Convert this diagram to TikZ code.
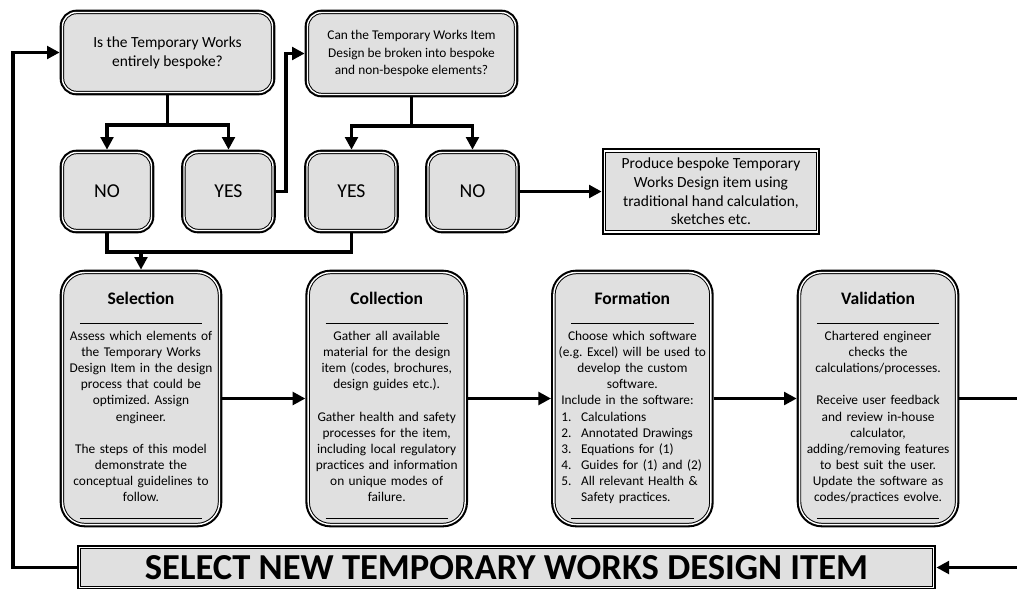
\documentclass[tikz,border=0pt]{standalone}
\usepackage{fontspec}
\setmainfont{Carlito}
\usetikzlibrary{calc,positioning,arrows.meta}
\setlength{\parindent}{0pt}
\frenchspacing
\definecolor{boxgray}{RGB}{224,224,224}
\tikzset{
    >={Triangle[length=9pt,width=9pt]},
    twbox/.style={
        rectangle,
        draw=black, line width=0.7pt,
        double=white, double distance=1pt,
        preaction={draw=black, line width=4pt},
        fill=boxgray,
        outer sep=2pt,
        align=center
    },
    question/.style={
        twbox,
        rounded corners=10pt,
        minimum height=2cm
    },
    answer/.style={
        twbox,
        rounded corners=10pt,
        minimum width=2.225cm,
        minimum height=1.95cm,
        font=\fontsize{14}{17}\selectfont
    },
    stage/.style={
        twbox,
        rounded corners=16pt,
        minimum width=3.925cm,
        minimum height=6.3cm,
        inner xsep=1pt,
        text width=3.8cm,
        font=\fontsize{9.5}{11.5}\selectfont
    },
    line/.style={draw, line width=2.8pt}
}
\newcommand{\stagetitle}[1]{{\fontsize{12.5}{14}\selectfont\bfseries\rule{0pt}{18.5pt}#1}\\[2.5pt]\rule{87pt}{0.7pt}\\}
\newcommand{\stageend}{\\[0.5pt]\rule{87pt}{0.7pt}}
\newcommand{\listline}[2]{\makebox[3.55cm][l]{\makebox[14pt][l]{#1}#2}}

\begin{document}
\begin{tikzpicture}[x=0.025cm, y=-0.025cm, node distance=2.075cm]
    \useasboundingbox (0,0) rectangle (1017,588);
    \clip (0,0) rectangle (1017,588);

    % questions
    \node[question, minimum width=5.25cm, font=\fontsize{11}{13.5}\selectfont] (q1) at (167.5,52.5)
        {Is the Temporary Works\\ entirely bespoke?};
    \node[question, minimum width=5.2cm, minimum height=2.05cm, font=\fontsize{9.5}{12.7}\selectfont] (q2) at (411.5,53.5)
        {Can the Temporary Works Item\\ Design be broken into bespoke\\ and non-bespoke elements?};

    % answers
    \node[answer] (no1) at (107,191.5) {NO};
    \node[answer] (yes1) at (228.5,191.5) {YES};
    \node[answer] (yes2) at (351.5,191.5) {YES};
    \node[answer] (no2) at (472.5,191.5) {NO};

    \node[twbox, minimum width=5.325cm, minimum height=2.025cm, font=\fontsize{11}{13.3}\selectfont] (produce) at (711,191.5)
        {Produce bespoke Temporary\\ Works Design item using\\ traditional hand calculation,\\ sketches etc.};

    % the four stages
    \node[stage] (selection) at (141,398.5) {\stagetitle{Selection}
        Assess which elements of\\ the Temporary Works\\ Design Item in the design\\ process that could be\\ optimized. Assign\\ engineer.\\[11.5pt]
        The steps of this model\\ demonstrate the\\ conceptual guidelines to\\ follow.\stageend};
    \node[stage, right=of selection] (collection) {\stagetitle{Collection}
        Gather all available\\ material for the design\\ item (codes, brochures,\\ design guides etc.).\\[11.5pt]
        Gather health and safety\\ processes for the item,\\ including local regulatory\\ practices and information\\ on unique modes of\\ failure.\stageend};
    \node[stage, right=of collection] (formation) {\stagetitle{Formation}
        Choose which software\\ (e.g. Excel) will be used to\\ develop the custom\\ software.\\
        \listline{}{\hspace{-14pt}Include in the software:}\\
        \listline{1.}{Calculations}\\
        \listline{2.}{Annotated Drawings}\\
        \listline{3.}{Equations for (1)}\\
        \listline{4.}{Guides for (1) and (2)}\\
        \listline{5.}{All relevant Health \&}\\
        \listline{}{Safety practices.}\stageend};
    \node[stage, right=of formation] (validation) {\stagetitle{Validation}
        Chartered engineer\\ checks the\\ calculations/processes.\\[11.5pt]
        Receive user feedback\\ and review in-house\\ calculator,\\ adding/removing features\\ to best suit the user.\\ Update the software as\\ codes/practices evolve.\stageend};

    \node[twbox, minimum width=21.35cm, minimum height=1cm, font=\fontsize{26}{30}\selectfont\bfseries] (newitem) at (506.5,567.5)
        {SELECT NEW TEMPORARY WORKS DESIGN ITEM};

    % connectors
    \draw[line] (q1.south) -- ++(0,30) coordinate (q1fork);
    \draw[line,->] (q1fork) -| (no1.north);
    \draw[line,->] (q1fork) -| (yes1.north);
    \draw[line] (q2.south) -- ++(0,29) coordinate (q2fork);
    \draw[line,->] (q2fork) -| (yes2.north);
    \draw[line,->] (q2fork) -| (no2.north);
    \draw[line,->] (yes1.east) -- ++(10,0) |- (q2.west);
    \draw[line] (no1.south) -- ++(0,19) coordinate (merge) -| (yes2.south);
    \draw[line,->] (merge -| selection.north) -- (selection.north);
    \draw[line,->] (no2.east) -- (produce.west);

    \draw[line,->] (selection) -- (collection);
    \draw[line,->] (collection) -- (formation);
    \draw[line,->] (formation) -- (validation);
    \draw[line,->] (validation.east) -- ++(80,0) |- (newitem.east);
    \draw[line,->] (newitem.west) -- ++(-64,0) |- (q1.west);
\end{tikzpicture}
\end{document}
